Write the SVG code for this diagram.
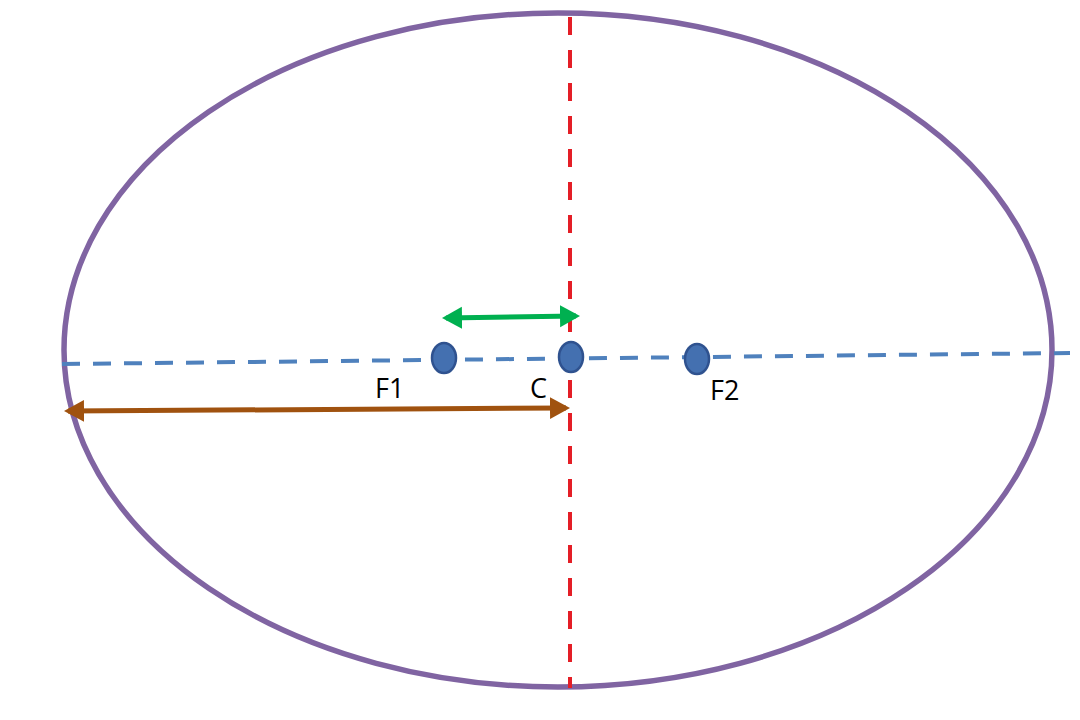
<svg xmlns="http://www.w3.org/2000/svg" width="1080" height="720" viewBox="0 0 1080 720">
<defs>
<marker id="ahG" markerWidth="5" markerHeight="5" refX="3.2" refY="2.2" orient="auto-start-reverse" markerUnits="strokeWidth"><path d="M0,0 L4,2.2 L0,4.4 Z" fill="#00B050"/></marker>
<marker id="ahB" markerWidth="5" markerHeight="5" refX="3.2" refY="2.2" orient="auto-start-reverse" markerUnits="strokeWidth"><path d="M0,0 L4,2.2 L0,4.4 Z" fill="#A0520F"/></marker>
</defs>
<style>
.lbl{font-family:"Open Sans","Liberation Sans",sans-serif;font-size:27px;fill:#000}
.dot{fill:#4470B0;stroke:#2F528F;stroke-width:2.5}
</style>
<rect width="1080" height="720" fill="#fff"/>
<g id="ellipse"><ellipse cx="558" cy="350" rx="494" ry="337" fill="none" stroke="#8064A2" stroke-width="5.5"/></g>
<g id="connectors">
<line id="major-axis" x1="62" y1="364" x2="1070" y2="353" stroke="#4F81BD" stroke-width="4" stroke-dasharray="18,13"/>
<line id="minor-axis" x1="570" y1="17" x2="570" y2="688" stroke="#E41E26" stroke-width="4" stroke-dasharray="18,15"/>
<line id="c-arrow" x1="446" y1="318" x2="576" y2="316" stroke="#00B050" stroke-width="5" marker-start="url(#ahG)" marker-end="url(#ahG)"/>
<line id="a-arrow" x1="68" y1="411" x2="566" y2="408" stroke="#A0520F" stroke-width="5" marker-start="url(#ahB)" marker-end="url(#ahB)"/>
</g>
<g id="F1"><ellipse class="dot" cx="444" cy="358" rx="12" ry="15"/><text class="lbl" x="375" y="398">F1</text></g>
<g id="C"><ellipse class="dot" cx="571" cy="357" rx="12" ry="15"/><text class="lbl" x="530" y="398">C</text></g>
<g id="F2"><ellipse class="dot" cx="697" cy="359" rx="12" ry="15"/><text class="lbl" x="710" y="400">F2</text></g>
</svg>
